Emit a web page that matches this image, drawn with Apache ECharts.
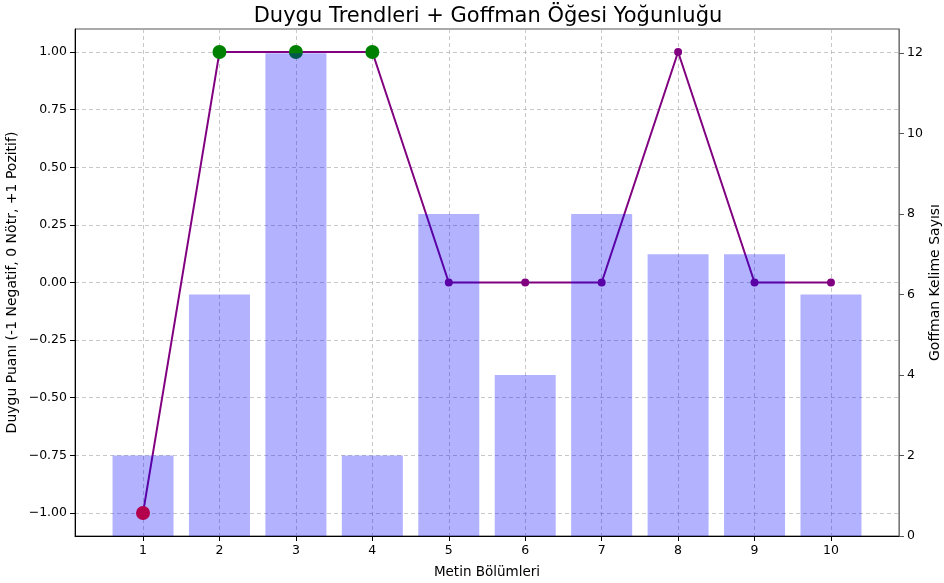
<!DOCTYPE html>
<html>
<head>
<meta charset="utf-8">
<script src="https://cdn.jsdelivr.net/npm/echarts@6/dist/echarts.min.js"></script>
<style>
html, body { margin: 0; padding: 0; background: #fff; }
#chart { width: 944px; height: 583px; }
</style>
</head>
<body>
<div id="chart"></div>
<script>
// metin bölümleri
var sections = [1, 2, 3, 4, 5, 6, 7, 8, 9, 10];
// duygu puanı (-1, 0, +1)
var sentiment = [-1, 1, 1, 1, 0, 0, 0, 1, 0, 0];
// goffman kelime sayısı
var goffmanCount = [2, 6, 12, 2, 8, 4, 8, 7, 7, 6];
// büyük işaretler (null = yok)
var highlight = ['red', 'green', 'green', 'green', null, null, null, null, null, null];

var leftTicks = [-1, -0.75, -0.5, -0.25, 0, 0.25, 0.5, 0.75, 1];
var rightTicks = [0, 2, 4, 6, 8, 10, 12];

var font = 'DejaVu Sans';
var chart = echarts.init(document.getElementById('chart'));

var lineData = sections.map(function (s, i) { return [s, sentiment[i]]; });
var barData = sections.map(function (s, i) { return [s, goffmanCount[i]]; });
var bigData = [];
sections.forEach(function (s, i) {
    if (highlight[i]) {
        bigData.push({ value: [s, sentiment[i]], itemStyle: { color: highlight[i] } });
    }
});

var gridLine = { show: true, lineStyle: { color: '#b0b0b0', type: [4, 3], width: 1, opacity: 0.7 } };

chart.setOption({
    backgroundColor: '#fff',
    animation: false,
    title: {
        text: 'Duygu Trendleri + Goffman Öğesi Yoğunluğu',
        left: 483,
        textAlign: 'center',
        top: 1,
        textStyle: { fontFamily: font, fontSize: 21, fontWeight: 'normal', color: '#000' }
    },
    grid: {
        left: 75, right: 45, top: 29, bottom: 47,
        outerBoundsMode: 'none',
        containLabel: false,
        show: true, borderColor: '#555', borderWidth: 1, backgroundColor: 'transparent'
    },
    xAxis: {
        type: 'value',
        min: 0.11, max: 10.89,
        name: 'Metin Bölümleri',
        nameLocation: 'middle',
        nameGap: 29,
        nameTextStyle: { fontFamily: font, fontSize: 13.5, color: '#000' },
        axisLine: { show: true, onZero: false, lineStyle: { color: '#000', width: 1 } },
        axisTick: { show: true, length: 5, customValues: sections, lineStyle: { color: '#000' } },
        axisLabel: { customValues: sections, fontFamily: font, fontSize: 12.5, color: '#000', margin: 8 },
        splitLine: gridLine
    },
    yAxis: [{
        type: 'value',
        min: -1.1, max: 1.1,
        position: 'left',
        name: 'Duygu Puanı (-1 Negatif, 0 Nötr, +1 Pozitif)',
        nameLocation: 'middle',
        nameRotate: 90,
        nameGap: 56,
        nameMoveOverlap: false,
        nameTextStyle: { fontFamily: font, fontSize: 14, color: '#000' },
        axisLine: { show: true, onZero: false, lineStyle: { color: '#000', width: 1 } },
        axisTick: { show: true, length: 5, customValues: leftTicks, lineStyle: { color: '#000' } },
        axisLabel: {
            customValues: leftTicks, fontFamily: font, fontSize: 12.5, color: '#000', margin: 8,
            formatter: function (v) { return v.toFixed(2).replace('-', '\u2212'); }
        },
        splitLine: gridLine
    }, {
        type: 'value',
        min: 0, max: 12.6,
        position: 'right',
        name: 'Goffman Kelime Sayısı',
        nameLocation: 'middle',
        nameRotate: 90,
        nameGap: 29,
        nameMoveOverlap: false,
        nameTextStyle: { fontFamily: font, fontSize: 14, color: '#000' },
        axisLine: { show: true, onZero: false, lineStyle: { color: '#777', width: 1 } },
        axisTick: { show: true, length: 5, customValues: rightTicks, lineStyle: { color: '#555' } },
        axisLabel: { customValues: rightTicks, fontFamily: font, fontSize: 12.5, color: '#000', margin: 8 },
        splitLine: { show: false }
    }],
    series: [{
        name: 'Duygu',
        type: 'line',
        yAxisIndex: 0,
        z: 2,
        data: lineData,
        symbol: 'circle',
        symbolSize: 8,
        itemStyle: { color: '#800080' },
        lineStyle: { color: '#800080', width: 2 }
    }, {
        name: 'Vurgu',
        type: 'scatter',
        yAxisIndex: 0,
        z: 3,
        data: bigData,
        symbol: 'circle',
        symbolSize: 14,
        itemStyle: { opacity: 1 }
    }, {
        name: 'Goffman',
        type: 'bar',
        yAxisIndex: 1,
        z: 4,
        data: barData,
        barWidth: 61,
        itemStyle: { color: 'blue', opacity: 0.3 }
    }]
});
</script>
</body>
</html>
